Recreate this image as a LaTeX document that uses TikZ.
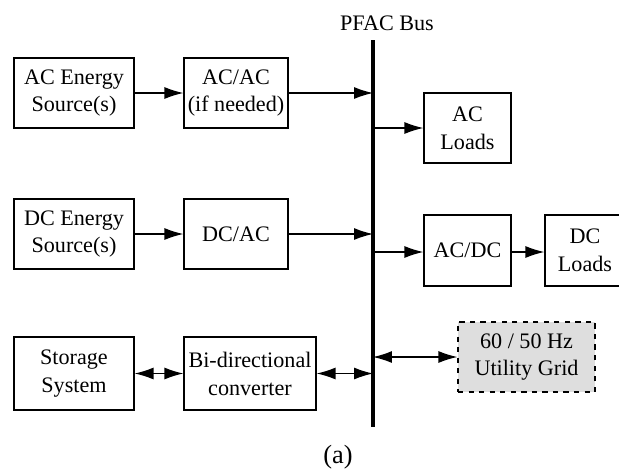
\documentclass[tikz,border=0pt]{standalone}
\usepackage{fontspec}
\setmainfont{Liberation Serif}
\usetikzlibrary{arrows.meta,calc,positioning}

\begin{document}
\begin{tikzpicture}[x=0.02cm,y=-0.02cm,>={Latex[length=3.8mm,width=2.4mm]},
  blk/.style={draw,line width=0.7pt,align=center,inner sep=1pt,minimum height=1.4cm,
    font=\fontsize{12.6}{15.9}\selectfont},
  lnk/.style={line width=0.7pt}]
\useasboundingbox (0,0) rectangle (619,468);
% bus
\coordinate (bustop) at (373,40);
\coordinate (busbot) at (373,427);
\draw[line width=2.4pt] (bustop)--(busbot);
\node[font=\fontsize{12.6}{15.9}\selectfont] (buslbl) at (387,23) {PFAC Bus};
% sources and converters
\node[blk,minimum width=2.4cm] (acsrc) at (74,93) {AC Energy\\Source(s)};
\node[blk,minimum width=2.08cm] (acac) at (236,93) {AC/AC\\(if needed)};
\node[blk,minimum width=2.4cm] (dcsrc) at (74,234) {DC Energy\\Source(s)};
\node[blk,minimum width=2.08cm] (dcac) at (236,234) {DC/AC};
\node[blk,minimum width=2.4cm,minimum height=1.46cm] (stor) at (74,373.5) {Storage\\System};
\node[blk,minimum width=2.64cm,minimum height=1.46cm] (bidir) at (250,373.5) {Bi-directional\\converter};
% loads and grid
\node[blk,minimum width=1.74cm] (acload) at (467.5,128) {AC\\Loads};
\node[blk,minimum width=1.74cm,minimum height=1.42cm] (acdc) at (467.5,250.5) {AC/DC};
\node[blk,minimum width=1.6cm,minimum height=1.42cm] (dcload) at (585,250.5) {DC\\Loads};
\node[blk,dashed,fill=black!13,minimum width=2.74cm] (grid) at (526.5,357) {60 / 50 Hz\\Utility Grid};
% connectors
\draw[lnk,->] (acsrc)--(acac);
\draw[lnk,->] (acac.east)--(acac.east -| bustop);
\draw[lnk,->] (acload.west -| bustop)--(acload.west);
\draw[lnk,->] (dcsrc)--(dcac);
\draw[lnk,->] (dcac.east)--(dcac.east -| bustop);
\draw[lnk,->] ($(acdc.west -| bustop)+(0,1.5)$)--($(acdc.west)+(0,1.5)$);
\draw[lnk,->] ($(acdc.east)+(0,1.5)$)--($(dcload.west)+(0,1.5)$);
\draw[lnk,<->] (grid.west -| bustop)--(grid.west);
\draw[lnk,<->] (stor)--(bidir);
\draw[lnk,<->] (bidir.east)--(bidir.east -| bustop);
\node[font=\fontsize{15}{17}\selectfont] (cap) at (338,457) {(a)};
\end{tikzpicture}
\end{document}
